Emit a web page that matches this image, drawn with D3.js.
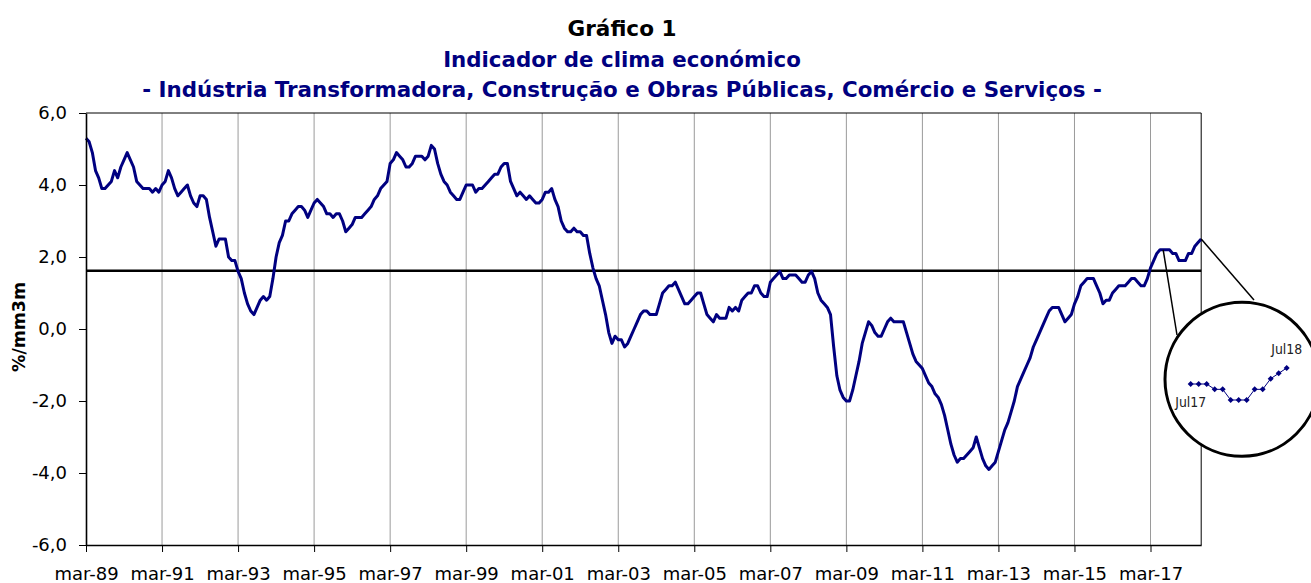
<!DOCTYPE html>
<html lang="pt">
<head>
<meta charset="utf-8">
<title>Indicador de clima económico</title>
<script src="https://cdn.jsdelivr.net/npm/d3@7"></script>
<style>
  body { margin: 0; background: #fff; }
  svg { display: block; font-family: "DejaVu Sans", Verdana, sans-serif; }
</style>
</head>
<body>
<script>
// meses abreviados para os rótulos do eixo
const meses = ["jan", "fev", "mar", "abr", "mai", "jun", "jul", "ago", "set", "out", "nov", "dez"];

// indicador de clima económico (%/mm3m), uma linha por ano de mar a fev
const clima1989 = [
  5.3, 5.2, 4.9, 4.4, 4.2, 3.9, 3.9, 4.0, 4.1, 4.4, 4.2, 4.5,
  4.7, 4.9, 4.7, 4.5, 4.1, 4.0, 3.9, 3.9, 3.9, 3.8, 3.9, 3.8,
  4.0, 4.1, 4.4, 4.2, 3.9, 3.7, 3.8, 3.9, 4.0, 3.7, 3.5, 3.4,
  3.7, 3.7, 3.6, 3.1, 2.7, 2.3, 2.5, 2.5, 2.5, 2.0, 1.9, 1.9,
  1.6, 1.4, 1.0, 0.7, 0.5, 0.4, 0.6, 0.8, 0.9, 0.8, 0.9, 1.4,
  2.0, 2.4, 2.6, 3.0, 3.0, 3.2, 3.3, 3.4, 3.4, 3.3, 3.1, 3.3,
  3.5, 3.6, 3.5, 3.4, 3.2, 3.2, 3.1, 3.2, 3.2, 3.0, 2.7, 2.8,
  2.9, 3.1, 3.1, 3.1, 3.2, 3.3, 3.4, 3.6, 3.7, 3.9, 4.0, 4.1,
  4.6, 4.7, 4.9, 4.8, 4.7, 4.5, 4.5, 4.6, 4.8, 4.8, 4.8, 4.7,
  4.8, 5.1, 5.0, 4.6, 4.3, 4.1, 4.0, 3.8, 3.7, 3.6, 3.6, 3.8
];
const clima1999 = [
  4.0, 4.0, 4.0, 3.8, 3.9, 3.9, 4.0, 4.1, 4.2, 4.3, 4.3, 4.5,
  4.6, 4.6, 4.1, 3.9, 3.7, 3.8, 3.7, 3.6, 3.7, 3.6, 3.5, 3.5,
  3.6, 3.8, 3.8, 3.9, 3.6, 3.4, 3.0, 2.8, 2.7, 2.7, 2.8, 2.7,
  2.7, 2.6, 2.6, 2.1, 1.7, 1.4, 1.2, 0.8, 0.4, -0.1, -0.4, -0.2,
  -0.3, -0.3, -0.5, -0.4, -0.2, 0.0, 0.2, 0.4, 0.5, 0.5, 0.4, 0.4,
  0.4, 0.7, 1.0, 1.1, 1.2, 1.2, 1.3, 1.1, 0.9, 0.7, 0.7, 0.8,
  0.9, 1.0, 1.0, 0.7, 0.4, 0.3, 0.2, 0.4, 0.3, 0.3, 0.3, 0.6,
  0.5, 0.6, 0.5, 0.8, 0.9, 1.0, 1.0, 1.2, 1.2, 1.0, 0.9, 0.9,
  1.3, 1.4, 1.5, 1.6, 1.4, 1.4, 1.5, 1.5, 1.5, 1.4, 1.3, 1.3,
  1.5, 1.6, 1.4, 1.0, 0.8, 0.7, 0.6, 0.4, -0.5, -1.3, -1.7, -1.9
];
const clima2009 = [
  -2.0, -2.0, -1.7, -1.3, -0.9, -0.4, -0.1, 0.2, 0.1, -0.1, -0.2, -0.2,
  0.0, 0.2, 0.3, 0.2, 0.2, 0.2, 0.2, -0.1, -0.4, -0.7, -0.9, -1.0,
  -1.1, -1.3, -1.5, -1.6, -1.8, -1.9, -2.1, -2.4, -2.8, -3.2, -3.5, -3.7,
  -3.6, -3.6, -3.5, -3.4, -3.3, -3.0, -3.3, -3.6, -3.8, -3.9, -3.8, -3.7,
  -3.4, -3.1, -2.8, -2.6, -2.3, -2.0, -1.6, -1.4, -1.2, -1.0, -0.8, -0.5,
  -0.3, -0.1, 0.1, 0.3, 0.5, 0.6, 0.6, 0.6, 0.4, 0.2, 0.3, 0.4,
  0.7, 0.9, 1.2, 1.3, 1.4, 1.4, 1.4, 1.2, 1.0, 0.7, 0.8, 0.8,
  1.0, 1.1, 1.2, 1.2, 1.2, 1.3, 1.4, 1.4, 1.3, 1.2, 1.2, 1.4,
  1.7, 1.9, 2.1, 2.2, 2.2, 2.2, 2.2, 2.1, 2.1, 1.9, 1.9, 1.9,
  2.1, 2.1, 2.3, 2.4, 2.5
];
const media = 1.62;            // linha horizontal (média do período)
const ticksY = [-6, -4, -2, 0, 2, 4, 6];
const rotulosZoom = ["Jul17", "Jul18"];
const mesesZoom = 13;          // jul-17 a jul-18

const titulo = ["Gráfico 1", "Indicador de clima económico",
  "- Indústria Transformadora, Construção e Obras Públicas, Comércio e Serviços -"];

function graficar() {
  let w = 1311;
  let h = 583;

  let clima = clima1989.concat(clima1999, clima2009);
  let n = clima.length;

  let rotuloMes = function (i) {
    let m = (2 + i) % 12;
    let ano = 1989 + Math.floor((2 + i) / 12);
    return meses[m] + "-" + String(ano).slice(2);
  };
  let fmt = function (d) {
    return (d < 0 ? "-" : "") + Math.abs(d).toFixed(1).replace(".", ",");
  };

  let svg = d3.select("body").append("svg").attr("width", w).attr("height", h);

  let x = d3.scalePoint().domain(d3.range(n)).range([86, 1201.2]);
  let y = d3.scaleLinear().domain([-6, 6]).range([545, 113]);
  let ticksX = d3.range(0, n, 24);

  // títulos, tamanho ajustado à largura do original
  let larguras = [109, 358, 960];
  let cores = ["#000", "#000080", "#000080"];
  let bases = [36, 67, 97];
  titulo.forEach(function (t, k) {
    let txt = svg.append("text")
      .attr("x", 622).attr("y", bases[k])
      .attr("text-anchor", "middle")
      .attr("font-weight", "bold")
      .attr("font-size", 19)
      .attr("fill", cores[k])
      .text(t);
    let l = txt.node().getComputedTextLength();
    txt.attr("font-size", 19 * larguras[k] / l);
  });

  // grelha vertical
  svg.append("g")
    .selectAll("line")
    .data(ticksX.slice(1))
    .enter()
    .append("line")
    .attr("x1", d => x(d)).attr("x2", d => x(d))
    .attr("y1", y(6)).attr("y2", y(-6))
    .attr("stroke", "#9a9a9a")
    .attr("stroke-width", 1);

  // moldura superior e direita
  svg.append("path")
    .attr("d", "M" + x(0) + "," + y(6) + "H" + x(n - 1) + "V" + y(-6))
    .attr("fill", "none")
    .attr("stroke", "#000")
    .attr("stroke-width", 1);

  // média
  svg.append("line")
    .attr("x1", x(0)).attr("x2", x(n - 1))
    .attr("y1", y(media)).attr("y2", y(media))
    .attr("stroke", "#000")
    .attr("stroke-width", 2.5);

  // série
  let linha = d3.line()
    .x((d, i) => x(i))
    .y(d => y(d));

  svg.append("path")
    .datum(clima)
    .attr("d", linha)
    .attr("fill", "none")
    .attr("stroke", "#000080")
    .attr("stroke-width", 3)
    .attr("stroke-linejoin", "round");

  // eixos
  let gy = svg.append("g")
    .attr("transform", "translate(" + x(0) + ",0)")
    .call(d3.axisLeft(y).tickValues(ticksY).tickFormat(fmt)
      .tickSize(7).tickSizeOuter(0).tickPadding(12));

  let gx = svg.append("g")
    .attr("transform", "translate(0," + y(-6) + ")")
    .call(d3.axisBottom(x).tickValues(ticksX).tickFormat(rotuloMes)
      .tickSize(7).tickSizeOuter(0).tickPadding(15));

  [gx, gy].forEach(function (g) {
    g.select(".domain").attr("stroke-width", 1.6);
    g.selectAll("text")
      .attr("font-family", "DejaVu Sans, Verdana, sans-serif")
      .attr("font-size", 18)
      .attr("fill", "#000");
  });

  svg.append("text")
    .attr("transform", "translate(19,327) rotate(-90)")
    .attr("text-anchor", "middle")
    .attr("dy", "0.35em")
    .attr("font-weight", "bold")
    .attr("font-size", 17)
    .attr("textLength", 90)
    .attr("lengthAdjust", "spacingAndGlyphs")
    .text("%/mm3m");

  // lupa sobre os últimos 13 meses
  let zoomDados = clima.slice(n - mesesZoom);
  let cx = 1242, cy = 379.3, r = 77;
  let xz = d3.scaleLinear().domain([0, mesesZoom - 1]).range([1190.7, 1286.7]);
  let yz = d3.scaleLinear().domain([1.9, 2.5]).range([400, 368]);

  svg.append("line")
    .attr("x1", x(n - mesesZoom)).attr("y1", y(zoomDados[0]))
    .attr("x2", 1177).attr("y2", 335)
    .attr("stroke", "#000").attr("stroke-width", 1.5);
  svg.append("line")
    .attr("x1", x(n - 1)).attr("y1", y(zoomDados[mesesZoom - 1]))
    .attr("x2", 1254).attr("y2", 300)
    .attr("stroke", "#000").attr("stroke-width", 1.5);

  svg.append("circle")
    .attr("cx", cx).attr("cy", cy).attr("r", r)
    .attr("fill", "#fff")
    .attr("stroke", "#000")
    .attr("stroke-width", 3);

  svg.append("path")
    .datum(zoomDados)
    .attr("d", d3.line().x((d, i) => xz(i)).y(d => yz(d)))
    .attr("fill", "none")
    .attr("stroke", "#000080")
    .attr("stroke-width", 1);

  svg.selectAll(".marca")
    .data(zoomDados)
    .enter()
    .append("path")
    .attr("class", "marca")
    .attr("d", "M0,-3L3,0L0,3L-3,0Z")
    .attr("transform", (d, i) => "translate(" + xz(i) + "," + yz(d) + ")")
    .attr("fill", "#000080");

  svg.append("text")
    .attr("x", xz(0)).attr("y", 406.5)
    .attr("text-anchor", "middle")
    .attr("font-size", 14)
    .attr("textLength", 31)
    .attr("lengthAdjust", "spacingAndGlyphs")
    .attr("fill", "#222")
    .text(rotulosZoom[0]);
  svg.append("text")
    .attr("x", xz(mesesZoom - 1)).attr("y", 354)
    .attr("text-anchor", "middle")
    .attr("font-size", 14)
    .attr("textLength", 31)
    .attr("lengthAdjust", "spacingAndGlyphs")
    .attr("fill", "#222")
    .text(rotulosZoom[1]);
}

graficar();
</script>
</body>
</html>
